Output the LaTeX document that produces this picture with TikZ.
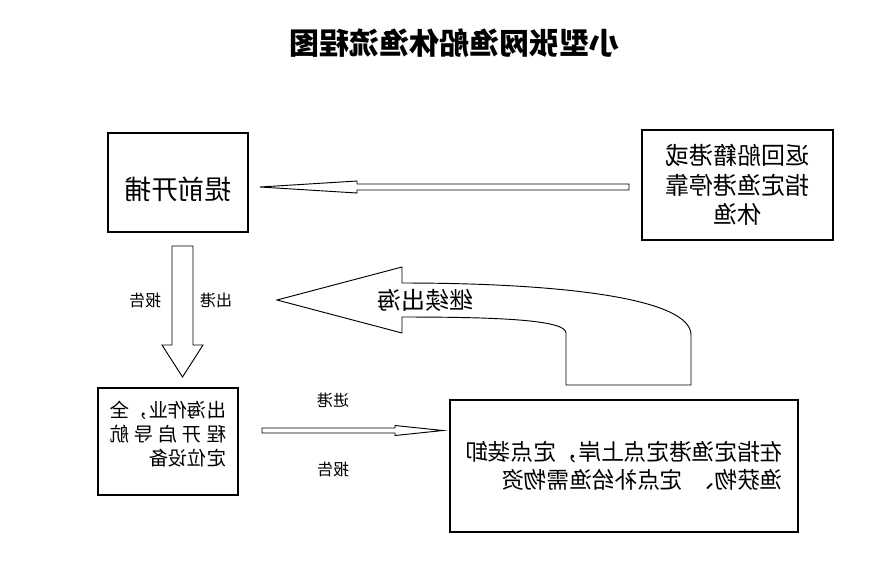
\documentclass[tikz,border=0pt]{standalone}
\usepackage{fontspec}
\usetikzlibrary{calc}
\newfontfamily\cjk{Noto Sans CJK SC}

\begin{document}
\begin{tikzpicture}[x=0.75pt,y=-0.75pt,
  mirror/.style={xscale=-1},
  box/.style={draw,line width=0.8pt,inner sep=0pt,mirror},
  blockarrow/.style={draw,fill=white,line width=0.7pt,line join=miter},
  lbl/.style={mirror,font=\cjk\fontsize{12}{14}\selectfont}]
\useasboundingbox (0,0) rectangle (884,565);
\node[mirror,font=\cjk\bfseries\fontsize{22.5}{27}\selectfont] (title) at (454,43) {小型张网渔船休渔流程图};
\node[box,minimum width=105pt,minimum height=74.25pt,font=\cjk\fontsize{20}{24}\selectfont,text height=28pt,text depth=3pt] (catch) at (178,182.5) {提前开捕};
\node[box,minimum width=143.25pt,minimum height=82.5pt,align=center,font=\cjk\fontsize{18}{22}\selectfont] (ret) at (737.5,185) {返回船籍港或\\指定渔港停靠\\休渔};
\node[box,minimum width=105pt,minimum height=80.25pt,align=left,font=\cjk\fontsize{14.5}{18}\selectfont,text depth=12pt] (sea) at (168,441.5) {出海作业，全\\\makebox[6em][s]{程\hfil 开\hfil 启\hfil 导\hfil 航}\\定位设备};
\node[box,minimum width=261pt,minimum height=99pt,align=left,font=\cjk\fontsize{17}{21}\selectfont] (land) at (624,466) {在指定渔港定点上岸，定点装卸\\渔获物、\hspace{.4em}定点补给渔需物资};

\coordinate (a1s) at (629,187); \coordinate (a1e) at (260,187);
\coordinate (a2s) at (182.5,246); \coordinate (a2e) at (182.5,377);
\coordinate (a3s) at (262,430.5); \coordinate (a3e) at (443,430.5);
\coordinate (a4e) at (277,300);

\draw[blockarrow] (a1e) -- ($(a1e)+(97,-6)$) -- ($(a1e)+(97,-3)$) -- ($(a1s)+(0,-3)$) -- ($(a1s)+(0,3)$) -- ($(a1e)+(97,3)$) -- ($(a1e)+(97,6)$) -- cycle;
\draw[blockarrow] (a2e) -- ($(a2e)+(-20.5,-32)$) -- ($(a2e)+(-10.5,-32)$) -- ($(a2s)+(-10.5,0)$) -- ($(a2s)+(10.5,0)$) -- ($(a2e)+(10.5,-32)$) -- ($(a2e)+(20.5,-32)$) -- cycle;
\draw[blockarrow] (a3e) -- ($(a3e)+(-48,-5)$) -- ($(a3e)+(-48,-2.5)$) -- ($(a3s)+(0,-2.5)$) -- ($(a3s)+(0,2.5)$) -- ($(a3e)+(-48,2.5)$) -- ($(a3e)+(-48,5)$) -- cycle;
\draw[blockarrow] (a4e) -- (402,267) -- (402,283) .. controls (560,283) and (691,298) .. (691,335) -- (691,385) -- (566,385) -- (566,333) .. controls (566,320) and (500,317) .. (402,317) -- (402,333) -- cycle;

\node[mirror,font=\cjk\fontsize{18}{22}\selectfont] (again) at (425,300) {继续出海};
\node[lbl] (outl) at (216,300) {出港};
\node[lbl] (repl1) at (145,300) {报告};
\node[lbl] (inl) at (333,400) {进港};
\node[lbl] (repl2) at (333,469) {报告};
\end{tikzpicture}
\end{document}
